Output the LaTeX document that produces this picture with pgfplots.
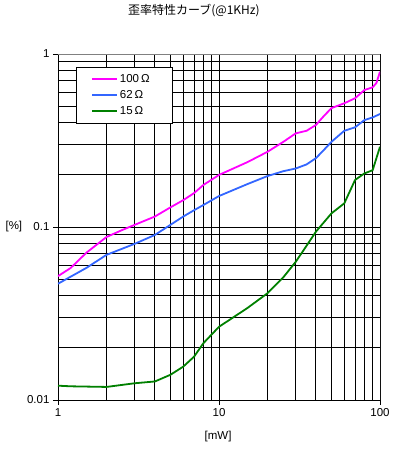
\documentclass[border=0pt]{standalone}
\usepackage{fontspec}
\setmainfont{Liberation Sans}
\newfontfamily\cjk{Noto Sans CJK JP}
\usepackage{pgfplots}
\pgfplotsset{compat=1.18}
\definecolor{cmag}{RGB}{255,0,255}
\definecolor{cblue}{RGB}{51,102,255}
\definecolor{cgreen}{RGB}{0,128,0}
\begin{document}
\begin{tikzpicture}[x=1pt,y=1pt]
\begin{loglogaxis}[
  at={(0,0)}, anchor=south west,
  scale only axis, width=322pt, height=346pt,
  xmin=1, xmax=100, ymin=0.01, ymax=1,
  xtick={1,10,100}, xticklabels={1,10,100},
  ytick={0.01,0.1,1}, yticklabels={0.01,0.1,1},
  minor xtick={2,3,4,5,6,7,8,9,20,30,40,50,60,70,80,90},
  minor ytick={0.02,0.03,0.04,0.05,0.06,0.07,0.08,0.09,0.2,0.3,0.4,0.5,0.6,0.7,0.8,0.9},
  grid=both,
  major grid style={black, line width=0.9pt},
  minor grid style={black, line width=0.9pt},
  axis x line*=bottom, axis y line*=left,
  axis line style={black, line width=0.9pt},
  tick align=outside, major tick length=5pt, minor tick length=0pt,
  tick style={black, line width=0.9pt},
  ticklabel style={font=\fontsize{11.5}{13}\selectfont},
  xlabel={[mW]}, ylabel={[\%]},
  xlabel style={font=\fontsize{11.5}{13}\selectfont, at={(axis description cs:0.497,-0.107)}, anchor=center},
  ylabel style={font=\fontsize{11.5}{13}\selectfont, rotate=-90, at={(axis description cs:-0.137,0.5)}, anchor=center},
  title={\cjk 歪率特性カーブ(@1KHz)},
  title style={font=\fontsize{12}{14}\selectfont, at={(axis description cs:0.422,1.107)}, anchor=center},
  legend style={at={(axis description cs:0.055,0.963)}, anchor=north west,
    fill=white, draw=black, line width=0.9pt, font=\fontsize{11.5}{13}\selectfont,
    inner xsep=15pt, inner ysep=4pt, row sep=0pt,
    nodes={inner xsep=2pt, inner ysep=3pt, text width=35pt, text height=8pt, text depth=2pt}},
  legend cell align=left,
  legend image code/.code={\draw[#1] (0pt,0pt) -- (25pt,0pt);},
]
\addplot[cmag, line width=1.8pt] coordinates {
(1,0.052) (1.2,0.058) (1.5,0.071) (2,0.0875) (2.5,0.096) (3,0.103) (4,0.115) (5,0.13) (6,0.143) (7,0.157) (8,0.175) (10,0.2) (15,0.237) (20,0.272) (25,0.31) (30,0.348) (35,0.36) (40,0.389) (45,0.44) (50,0.487) (60,0.519) (70,0.555) (80,0.619) (90,0.642) (95,0.68) (100,0.79)};
\addlegendentry{100\,Ω}
\addplot[cblue, line width=1.8pt] coordinates {
(1,0.047) (1.5,0.058) (2,0.069) (3,0.080) (4,0.090) (5,0.103) (6,0.115) (7,0.125) (8,0.134) (10,0.151) (15,0.177) (20,0.197) (25,0.21) (30,0.218) (35,0.23) (40,0.25) (45,0.28) (50,0.311) (60,0.36) (70,0.377) (80,0.415) (90,0.43) (100,0.45)};
\addlegendentry{62\,Ω}
\addplot[cgreen, line width=1.8pt] coordinates {
(1,0.0121) (1.2,0.012) (2,0.0119) (3,0.0125) (4,0.0128) (5,0.0140) (6,0.0156) (7,0.0178) (8,0.0213) (10,0.0265) (15,0.034) (20,0.0414) (25,0.051) (30,0.063) (35,0.078) (40,0.094) (50,0.12) (60,0.137) (70,0.187) (80,0.204) (90,0.213) (100,0.291)};
\addlegendentry{15\,Ω}
\draw[gray, line width=1pt] (rel axis cs:0,1) -- (rel axis cs:1,1) -- (rel axis cs:1,0);
\end{loglogaxis}
\pgfresetboundingbox
\path (-58,-63) rectangle (338,400);
\end{tikzpicture}
\end{document}
